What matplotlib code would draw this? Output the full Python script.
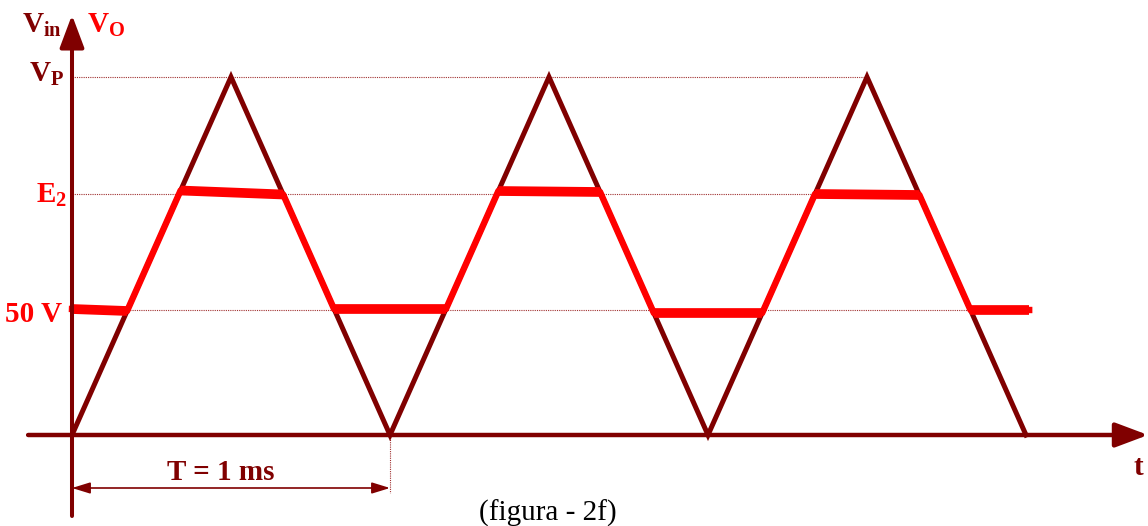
import matplotlib
matplotlib.use("Agg")
import matplotlib.pyplot as plt
from matplotlib.patches import ArrowStyle

plt.rcParams['mathtext.default'] = 'regular'

DARK = '#800000'
RED = '#ff0000'
GUIDE = '#a03030'

# triangular input, period 1 ms
period = 1.0
vp = 143.2
e2 = 96.4
v50 = 50.0
vin_t = [0.0, 0.5, 1.0, 1.5, 2.0, 2.5, 3.0]
vin_v = [0.0, vp, 0.0, vp, 0.0, vp, 0.0]

# clipped output levels (start, end) of each flat part, as drawn
lo_levels = [(50.4, 49.6), (50.4, 50.4), (48.8, 48.8), (50.0, 50.0)]
hi_levels = [(97.8, 96.2), (97.6, 97.2), (96.4, 96.0)]
t_end = 3.01


def rise(k, v):
    return k * period + v / vp * period / 2


def fall(k, v):
    return k * period - v / vp * period / 2


# flat pieces of the output in time order
flats = []
for k in range(len(lo_levels)):
    a, b = lo_levels[k]
    t0 = 0.0 if k == 0 else fall(k, a)
    t1 = t_end if k == len(lo_levels) - 1 else rise(k, b)
    flats.append(([t0, t1], [a, b]))
    if k < len(hi_levels):
        c, d = hi_levels[k]
        flats.append(([rise(k, c), fall(k + 1, d)], [c, d]))

vo_t = [t for ft, fv in flats for t in ft]
vo_v = [v for ft, fv in flats for v in fv]

fig = plt.figure(figsize=(11.48, 5.26), dpi=100)
ax = fig.add_axes([0, 0, 1, 1])
ax.set_xlim(-72 / 318, 1076 / 318)
ax.set_ylim(-91 / 2.5, 435 / 2.5)
ax.axis('off')

# guide lines
ax.plot([0.0, 2.5], [vp, vp], color=GUIDE, lw=0.8, ls=(0, (1, 1)), zorder=1)
ax.plot([0.0, 2.67], [e2, e2], color=GUIDE, lw=0.8, ls=(0, (1, 1)), zorder=1)
ax.plot([0.0, 3.0], [v50, v50], color=GUIDE, lw=0.8, ls=(0, (1, 1)), zorder=1)
ax.plot([period, period], [0, -23.2], color=GUIDE, lw=0.8, ls=(0, (1, 1)), zorder=1)

# input and output waveforms
ax.plot(vin_t, vin_v, color=DARK, lw=3.6, zorder=2, solid_joinstyle='miter')
ax.plot(vo_t, vo_v, color=RED, lw=4.6, zorder=3)
for ft, fv in flats:
    ax.plot(ft, fv, color=RED, lw=7, zorder=4, solid_capstyle='butt')

# axes with arrows
axis_style = ArrowStyle('-|>', head_length=20, head_width=7.5)
ax.annotate('', xy=(0, 168), xytext=(0, -32.4),
            arrowprops=dict(arrowstyle=axis_style, mutation_scale=1, color=DARK,
                            lw=2.9, shrinkA=0, shrinkB=0), zorder=5)
ax.annotate('', xy=(3.384, 0), xytext=(-0.138, 0),
            arrowprops=dict(arrowstyle=axis_style, mutation_scale=1, color=DARK,
                            lw=3.2, shrinkA=0, shrinkB=0), zorder=5)

# period marker
ax.annotate('', xy=(period, -21.2), xytext=(0, -21.2),
            arrowprops=dict(arrowstyle=ArrowStyle('<|-|>', head_length=11, head_width=3.4),
                            mutation_scale=1, color=DARK, lw=1.2, shrinkA=0, shrinkB=0))

font = dict(family='Liberation Serif', weight='bold', fontsize=21)
ax.text(-0.157, 160.8, '$V_{in}$', color=DARK, ha='left', va='baseline', **font)
ax.text(0.047, 160.8, '$V_{O}$', color=RED, ha='left', va='baseline', **font)
ax.text(-0.135, 141.2, '$V_{P}$', color=DARK, ha='left', va='baseline', **font)
ax.text(-0.016, 92.8, '$E_{2}$', color=RED, ha='right', va='baseline', **font)
ax.text(-0.031, 45.2, '50 V', color=RED, ha='right', va='baseline', **font)
ax.text(0.469, -18.0, 'T = 1 ms', color=DARK, ha='center', va='baseline', **font)
ax.text(3.352, -16.0, 't', color=DARK, ha='center', va='baseline', **font)
ax.text(1.497, -34.4, '(figura - 2f)', color='black', ha='center', va='baseline',
        family='Liberation Serif', fontsize=21)

fig.savefig('out.png', dpi=100, facecolor='white')
